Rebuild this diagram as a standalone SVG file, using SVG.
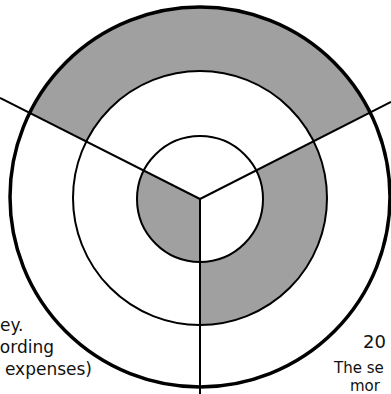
<svg xmlns="http://www.w3.org/2000/svg" width="391" height="394" viewBox="0 0 391 394">
  <style>
    .shade { fill: #a0a0a0; stroke: none; }
    .ring { fill: none; stroke: #000; stroke-width: 2; }
    .outer { fill: none; stroke: #000; stroke-width: 3.5; }
    .spoke { stroke: #000; stroke-width: 2; fill: none; }
    .lbl { font-family: "DejaVu Sans", "Liberation Sans", sans-serif; font-size: 17px; fill: #111; }
    .sm { font-size: 15px; }
  </style>
  <defs>
    <clipPath id="cOuter"><circle cx="200" cy="197" r="190"/></clipPath>
    <clipPath id="cMid"><circle cx="200" cy="198" r="127"/></clipPath>
    <clipPath id="cInner"><circle cx="200" cy="199" r="63"/></clipPath>
  </defs>
  <rect width="391" height="394" fill="#fff"/>

  <g id="ring-outer">
    <polygon class="shade" clip-path="url(#cOuter)" points="200,199 0,98 0,0 391,0 391,102"/>
    <circle cx="200" cy="198" r="127" fill="#fff"/>
  </g>
  <g id="ring-middle">
    <polygon class="shade" clip-path="url(#cMid)" points="200,199 391,102 391,394 200,394"/>
    <circle cx="200" cy="199" r="63" fill="#fff"/>
  </g>
  <g id="ring-inner">
    <polygon class="shade" clip-path="url(#cInner)" points="200,199 200,394 0,394 0,98"/>
  </g>

  <g id="circles">
    <circle class="outer" cx="200" cy="197" r="190"/>
    <circle class="ring" cx="200" cy="198" r="127"/>
    <circle class="ring" cx="200" cy="199" r="63"/>
  </g>

  <g id="connectors">
    <line class="spoke" x1="200" y1="199" x2="0" y2="98"/>
    <line class="spoke" x1="200" y1="199" x2="391" y2="102"/>
    <line class="spoke" x1="200" y1="199" x2="200" y2="394"/>
  </g>

  <g id="label-left">
    <text class="lbl" x="0" y="331">ey.</text>
    <text class="lbl" x="54" y="353" text-anchor="end">ording</text>
    <text class="lbl" x="92" y="375" text-anchor="end">expenses)</text>
  </g>
  <g id="label-right">
    <text class="lbl" x="363" y="348" style="font-size:18px">20</text>
    <text class="lbl sm" x="334" y="373">The se</text>
    <text class="lbl sm" x="350" y="391">mor</text>
  </g>
</svg>
